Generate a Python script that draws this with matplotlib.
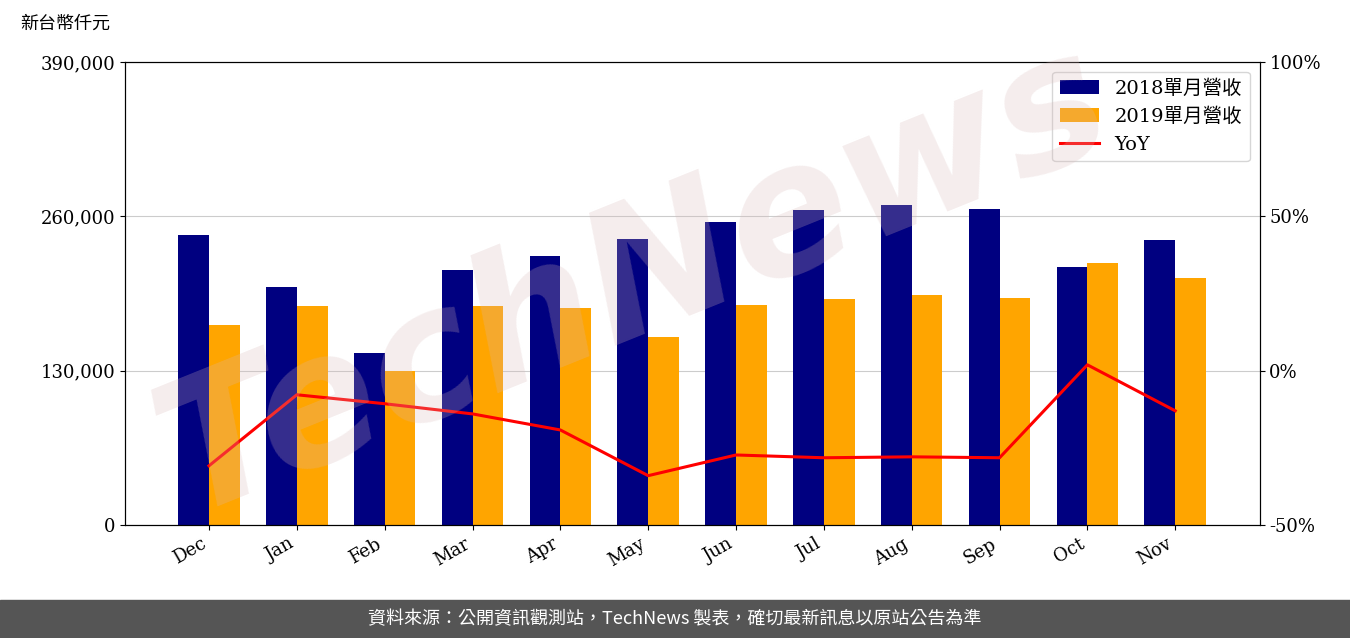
import matplotlib
matplotlib.use("Agg")
import matplotlib.pyplot as plt
import numpy as np

plt.rcParams['font.family'] = ['DejaVu Serif', 'Noto Sans CJK TC']

months = ['Dec', 'Jan', 'Feb', 'Mar', 'Apr', 'May', 'Jun', 'Jul', 'Aug', 'Sep', 'Oct', 'Nov']
rev_2018 = [244200, 200400, 144900, 214800, 226500, 240900, 255200, 265300, 269500, 266100, 217300, 240000]
rev_2019 = [168400, 184400, 129700, 184400, 182800, 158300, 185300, 190300, 193700, 191200, 220700, 208000]
yoy = [-30.8, -7.8, -10.7, -14.0, -19.2, -34.0, -27.3, -28.2, -27.9, -28.2, 1.9, -13.0]

fig = plt.figure(figsize=(13.5, 6.38), dpi=100)
ax = fig.add_axes([0.0926, 0.177, 0.8404, 0.726])
x = np.arange(len(months))
w = 0.35
b1 = ax.bar(x - w/2, rev_2018, w, color='#000080', label='2018單月營收', zorder=2)
b2 = ax.bar(x + w/2, rev_2019, w, color='#FFA500', label='2019單月營收', zorder=2)
ax.set_ylim(0, 390000)
ax.set_yticks([0, 130000, 260000, 390000])
ax.set_yticklabels(['0', '130,000', '260,000', '390,000'], fontsize=13)
ax.set_xlim(-0.956, 11.96)
ax.set_xticks(x)
ax.set_xticklabels(months, rotation=30, ha='right', fontsize=13)
ax.grid(axis='y', color='#cccccc', zorder=0)

ax2 = ax.twinx()
l, = ax2.plot(x, yoy, color='red', lw=2.2, label='YoY', zorder=3)
ax2.set_ylim(-50, 100)
ax2.set_yticks([-50, 0, 50, 100])
ax2.set_yticklabels(['-50%', '0%', '50%', '100%'], fontsize=13)

ax2.legend([b1, b2, l], ['2018單月營收', '2019單月營收', 'YoY'], loc='upper right', fontsize=14)

fig.text(0.015, 0.955, '新台幣仟元', fontsize=13, family='Noto Sans CJK TC')
fig.text(0.47, 0.56, 'TechNews', fontsize=130, color='#d8b8b8', alpha=0.25,
         rotation=22, ha='center', va='center', family='DejaVu Sans', weight='bold', style='italic')

fig.patches.append(plt.Rectangle((0, 0), 1, 0.06, transform=fig.transFigure, color='#555555'))
fig.text(0.5, 0.03, '資料來源：公開資訊觀測站，TechNews 製表，確切最新訊息以原站公告為準',
         color='white', fontsize=13, ha='center', va='center', family='Noto Sans CJK TC')

fig.savefig('out.png')
